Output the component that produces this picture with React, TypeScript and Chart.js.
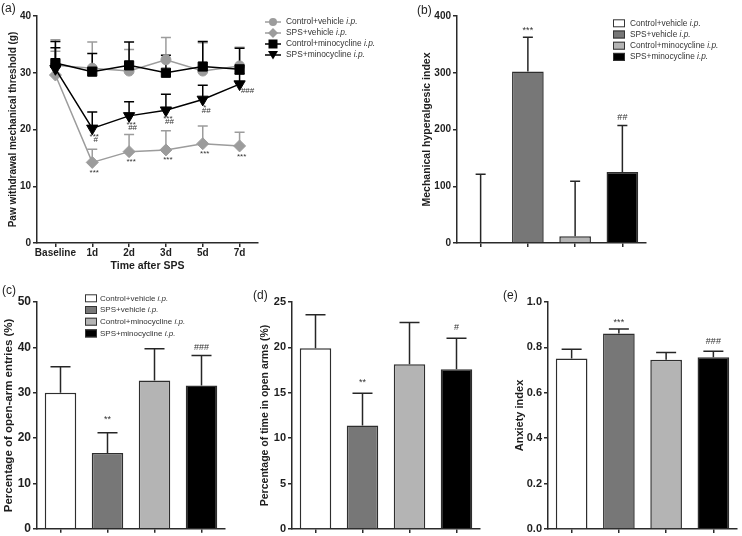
import React, { useEffect, useRef } from 'react';
import { Chart, registerables } from 'chart.js';

Chart.register(...registerables);

const FONT = '"Liberation Sans", Arial, Helvetica, sans-serif';

// ---------- Panel (a): paw withdrawal threshold over time ----------
const TIME_POINTS = ['Baseline', '1d', '2d', '3d', '5d', '7d'];
const PWT_CTRL_VEH = [31.3, 30.8, 30.3, 32.3, 30.3, 31.2];
const PWT_CTRL_VEH_ERR = [4.5, 4.6, 3.8, 3.9, 5.0, 3.3];
const PWT_SPS_VEH = [29.6, 14.2, 16.1, 16.4, 17.5, 17.1];
const PWT_SPS_VEH_ERR = [4.2, 2.3, 3.0, 3.4, 3.1, 2.4];
const PWT_CTRL_MINO = [31.7, 30.2, 31.3, 30.0, 31.1, 30.6];
const PWT_CTRL_MINO_ERR = [3.8, 3.2, 4.1, 3.1, 4.4, 3.7];
const PWT_SPS_MINO = [30.7, 20.2, 22.4, 23.4, 25.3, 28.0];
const PWT_SPS_MINO_ERR = [3.7, 2.9, 2.5, 2.8, 2.5, 1.8];
const PWT_SPS_VEH_SIG = ['', '***', '***', '***', '***', '***'];
const PWT_SPS_MINO_SIG = ['', '***', '***', '***', '*', ''];
const PWT_SPS_MINO_HASH = ['', '#', '##', '##', '##', '###'];

// ---------- Groups for bar panels ----------
const GROUPS = ['Control+vehicle', 'SPS+vehicle', 'Control+minocycline', 'SPS+minocycline'];
const ROUTE = 'i.p.';

// (b) mechanical hyperalgesic index
const MHI = [0, 302, 12, 125];
const MHI_ERR = [121, 60.5, 97, 82];
const MHI_SIG = ['', '***', '', '##'];
// (c) percentage of open-arm entries
const OAE = [30.0, 16.7, 32.7, 31.6];
const OAE_ERR = [5.7, 4.5, 7.0, 6.6];
const OAE_SIG = ['', '**', '', '###'];
// (d) percentage of time in open arms
const OAT = [19.9, 11.4, 18.15, 17.6];
const OAT_ERR = [3.7, 3.55, 4.6, 3.4];
const OAT_SIG = ['', '**', '', '#'];
// (e) anxiety index
const AI = [0.751, 0.861, 0.746, 0.757];
const AI_ERR = [0.041, 0.02, 0.031, 0.026];
const AI_SIG = ['', '***', '', '###'];

const BAR_FILLS = ['#ffffff', '#777777', '#b4b4b4', '#000000'];
const AXIS_COLOR = '#2a2a2a';
const TEXT_COLOR = '#1e1e1e';
const GRAY = '#9c9c9c';

function yAxis(o: any) {
  return {
    min: o.min,
    max: o.max,
    ticks: {
      stepSize: o.step,
      font: { family: FONT, size: o.tickSize, weight: 'bold' },
      color: TEXT_COLOR,
      padding: 2,
      callback: o.fmt || ((v: any) => String(v)),
    },
    grid: { display: true, drawOnChartArea: false, drawTicks: true, tickLength: 4, color: AXIS_COLOR, lineWidth: 1.5 },
    border: { display: true, color: AXIS_COLOR, width: 1.5 },
    title: {
      display: true,
      text: o.title,
      font: { family: FONT, size: o.titleSize, weight: 'bold' },
      color: TEXT_COLOR,
      padding: { top: o.titlePad, bottom: 0 },
    },
    afterFit: (s: any) => {
      s.width = o.width;
    },
  };
}

function xAxis(o: any) {
  return {
    type: 'category',
    offset: true,
    grid: { display: true, drawOnChartArea: false, drawTicks: true, tickLength: 4, color: AXIS_COLOR, lineWidth: 1.5, offset: false },
    border: { display: true, color: AXIS_COLOR, width: 1.5 },
    ticks: {
      display: !!o.labels,
      font: { family: FONT, size: o.tickSize || 10, weight: 'bold' },
      color: TEXT_COLOR,
      padding: 0,
      maxRotation: 0,
      autoSkip: false,
    },
    title: o.title
      ? {
          display: true,
          text: o.title,
          font: { family: FONT, size: o.titleSize, weight: 'bold' },
          color: TEXT_COLOR,
          padding: { top: 0, bottom: o.titlePad },
        }
      : { display: false },
    afterFit: (s: any) => {
      s.height = o.height;
    },
  };
}

function panelLabel(text: string, x: number, y: number) {
  return {
    id: 'panelLabel',
    afterDraw(chart: any) {
      const c = chart.ctx;
      c.save();
      c.font = `12px ${FONT}`;
      c.fillStyle = TEXT_COLOR;
      c.textAlign = 'left';
      c.textBaseline = 'middle';
      c.fillText(text, x, y);
      c.restore();
    },
  };
}

function drawLegendText(c: any, label: string, x: number, y: number, size: number) {
  c.font = `${size}px ${FONT}`;
  c.fillStyle = '#333';
  c.textAlign = 'left';
  c.textBaseline = 'middle';
  const main = label + ' ';
  c.fillText(main, x, y);
  const w = c.measureText(main).width;
  c.font = `italic ${size}px ${FONT}`;
  c.fillText(ROUTE, x + w, y);
}

function boxLegend(o: any) {
  return {
    id: 'boxLegend',
    afterDraw(chart: any) {
      const c = chart.ctx;
      c.save();
      GROUPS.forEach((g, i) => {
        const y = o.y + i * o.rowH;
        c.fillStyle = BAR_FILLS[i];
        c.fillRect(o.boxX, y - o.boxH / 2, o.boxW, o.boxH);
        c.strokeStyle = '#333';
        c.lineWidth = 1;
        c.strokeRect(o.boxX + 0.5, y - o.boxH / 2 + 0.5, o.boxW - 1, o.boxH - 1);
        drawLegendText(c, g, o.textX, y, o.size);
      });
      c.restore();
    },
  };
}

function drawMarker(c: any, style: string, x: number, y: number, r: number, color: string) {
  c.fillStyle = color;
  c.beginPath();
  if (style === 'circle') {
    c.arc(x, y, r, 0, Math.PI * 2);
  } else if (style === 'diamond') {
    c.moveTo(x, y - r);
    c.lineTo(x + r, y);
    c.lineTo(x, y + r);
    c.lineTo(x - r, y);
    c.closePath();
  } else if (style === 'square') {
    c.rect(x - r, y - r, 2 * r, 2 * r);
  } else {
    c.moveTo(x - r, y - r * 0.8);
    c.lineTo(x + r, y - r * 0.8);
    c.lineTo(x, y + r * 0.9);
    c.closePath();
  }
  c.fill();
}

function pointLegend(o: any) {
  const styles = ['circle', 'diamond', 'square', 'triDown'];
  const radii = [4, 5, 4.5, 5];
  const colors = [GRAY, GRAY, '#000', '#000'];
  return {
    id: 'pointLegend',
    afterDraw(chart: any) {
      const c = chart.ctx;
      c.save();
      GROUPS.forEach((g, i) => {
        const y = o.y + i * o.rowH;
        c.strokeStyle = colors[i];
        c.lineWidth = 1.5;
        c.beginPath();
        c.moveTo(o.markX - 8, y);
        c.lineTo(o.markX + 8, y);
        c.stroke();
        drawMarker(c, styles[i], o.markX, y, radii[i], colors[i]);
        drawLegendText(c, g, o.textX, y, o.size);
      });
      c.restore();
    },
  };
}

function barExtras(errs: number[], sigs: string[], gaps: number[], capW: number, sigSize: number) {
  return {
    id: 'barExtras',
    afterDatasetsDraw(chart: any) {
      const c = chart.ctx;
      const ys = chart.scales.y;
      const meta = chart.getDatasetMeta(0);
      const data = chart.data.datasets[0].data;
      c.save();
      c.strokeStyle = '#262626';
      c.lineWidth = 1.5;
      meta.data.forEach((el: any, i: number) => {
        const v = data[i];
        const yb = ys.getPixelForValue(v);
        const yt = ys.getPixelForValue(v + errs[i]);
        const x = el.x;
        c.beginPath();
        c.moveTo(x, yb);
        c.lineTo(x, yt);
        c.moveTo(x - capW / 2, yt);
        c.lineTo(x + capW / 2, yt);
        c.stroke();
        if (sigs[i]) {
          const star = sigs[i].indexOf('*') >= 0;
          const cy = yt - gaps[i];
          c.font = `${sigSize}px ${FONT}`;
          c.fillStyle = '#333';
          c.textAlign = 'center';
          c.textBaseline = 'alphabetic';
          c.fillText(sigs[i], x, cy + (star ? 0.57 : 0.35) * sigSize);
        }
      });
      c.restore();
    },
  };
}

function lineExtras(errs: number[][], capW: number) {
  return {
    id: 'lineExtras',
    beforeDatasetsDraw(chart: any) {
      const c = chart.ctx;
      const ys = chart.scales.y;
      c.save();
      c.lineWidth = 1.5;
      chart.data.datasets.forEach((ds: any, di: number) => {
        const meta = chart.getDatasetMeta(di);
        c.strokeStyle = ds.borderColor;
        meta.data.forEach((el: any, i: number) => {
          const v = ds.data[i];
          const yb = ys.getPixelForValue(v);
          const yt = ys.getPixelForValue(v + errs[di][i]);
          c.beginPath();
          c.moveTo(el.x, yb);
          c.lineTo(el.x, yt);
          c.moveTo(el.x - capW / 2, yt);
          c.lineTo(el.x + capW / 2, yt);
          c.stroke();
        });
      });
      c.restore();
    },
    afterDatasetsDraw(chart: any) {
      const c = chart.ctx;
      const size = 8;
      c.save();
      c.font = `${size}px ${FONT}`;
      c.fillStyle = '#333';
      c.textAlign = 'center';
      c.textBaseline = 'alphabetic';
      const put = (t: string, x: number, cy: number) => {
        const star = t.indexOf('*') >= 0;
        c.fillText(t, x, cy + (star ? 0.57 : 0.35) * size);
      };
      const m1 = chart.getDatasetMeta(1);
      PWT_SPS_VEH_SIG.forEach((t, i) => {
        if (t) put(t, m1.data[i].x + 2, m1.data[i].y + 8);
      });
      const m3 = chart.getDatasetMeta(3);
      PWT_SPS_MINO_SIG.forEach((t, i) => {
        if (t) put(t, m3.data[i].x + 2, m3.data[i].y + 6.5);
      });
      PWT_SPS_MINO_HASH.forEach((t, i) => {
        if (!t) return;
        if (PWT_SPS_MINO_SIG[i]) put(t, m3.data[i].x + 3.5, m3.data[i].y + 11);
        else put(t, m3.data[i].x + 8, m3.data[i].y + 6);
      });
      c.restore();
    },
  };
}

function baseOptions(padding: any, scales: any) {
  return {
    animation: false,
    responsive: false,
    devicePixelRatio: 1,
    events: [],
    layout: { padding },
    plugins: { legend: { display: false }, tooltip: { enabled: false }, title: { display: false } },
    scales,
  };
}

function barConfig(o: any) {
  return {
    type: 'bar',
    data: {
      labels: GROUPS,
      datasets: [
        {
          data: o.values,
          backgroundColor: BAR_FILLS,
          borderColor: '#2e2e2e',
          borderWidth: 1.5,
          barPercentage: 0.67,
          categoryPercentage: 1,
        },
      ],
    },
    options: baseOptions(o.padding, { x: xAxis({ height: o.xHeight }), y: yAxis(o.y) }),
    plugins: o.plugins,
  };
}

const CHARTS: any[] = [
  {
    key: 'a',
    left: 0,
    top: 0,
    width: 400,
    height: 275,
    config: () => ({
      type: 'line',
      data: {
        labels: TIME_POINTS,
        datasets: [
          { label: GROUPS[0], data: PWT_CTRL_VEH, borderColor: GRAY, backgroundColor: GRAY, pointStyle: 'circle', pointRadius: 5, order: 3 },
          { label: GROUPS[1], data: PWT_SPS_VEH, borderColor: GRAY, backgroundColor: GRAY, pointStyle: 'rectRot', pointRadius: 6, order: 2 },
          { label: GROUPS[2], data: PWT_CTRL_MINO, borderColor: '#000', backgroundColor: '#000', pointStyle: 'rect', pointRadius: 6.5, order: 1 },
          { label: GROUPS[3], data: PWT_SPS_MINO, borderColor: '#000', backgroundColor: '#000', pointStyle: 'triangle', pointRotation: 180, pointRadius: 6.5, order: 0 },
        ].map((d) => ({ ...d, borderWidth: 1.5, tension: 0, pointBorderWidth: 1, pointBackgroundColor: d.backgroundColor, pointBorderColor: d.borderColor })),
      },
      options: baseOptions(
        { left: 0, top: 16, right: 142, bottom: 0 },
        {
          x: xAxis({ height: 32, labels: true, tickSize: 10, title: 'Time after SPS', titleSize: 10.5, titlePad: 2.7 }),
          y: yAxis({ min: 0, max: 40, step: 10, width: 37, tickSize: 10, title: 'Paw withdrawal mechanical threshold (g)', titleSize: 10, titlePad: 7 }),
        }
      ),
      plugins: [
        lineExtras([PWT_CTRL_VEH_ERR, PWT_SPS_VEH_ERR, PWT_CTRL_MINO_ERR, PWT_SPS_MINO_ERR], 10),
        pointLegend({ markX: 273, textX: 286, y: 22, rowH: 11, size: 8.4 }),
        panelLabel('(a)', 1, 9),
      ],
    }),
  },
  {
    key: 'b',
    left: 410,
    top: 0,
    width: 332,
    height: 252,
    config: () =>
      barConfig({
        values: MHI,
        padding: { left: 0, top: 16, right: 96, bottom: 0 },
        xHeight: 9,
        y: { min: 0, max: 400, step: 100, width: 47, tickSize: 10, title: 'Mechanical hyperalgesic index', titleSize: 10.5, titlePad: 10.7 },
        plugins: [
          barExtras(MHI_ERR, MHI_SIG, [0, 9, 0, 9], 10, 9),
          boxLegend({ boxX: 203, boxW: 12, boxH: 8, textX: 220, y: 23.3, rowH: 11.2, size: 8.3 }),
          panelLabel('(b)', 7, 11),
        ],
      }),
  },
  {
    key: 'c',
    left: 0,
    top: 275,
    width: 240,
    height: 263,
    config: () =>
      barConfig({
        values: OAE,
        padding: { left: 0, top: 27, right: 15, bottom: 0 },
        xHeight: 9,
        y: { min: 0, max: 50, step: 10, width: 37, tickSize: 12, title: 'Percentage of open-arm entries (%)', titleSize: 11.5, titlePad: 2.2 },
        plugins: [
          barExtras(OAE_ERR, OAE_SIG, [0, 16, 0, 9], 20, 9),
          boxLegend({ boxX: 85, boxW: 12, boxH: 8, textX: 100, y: 23.3, rowH: 11.7, size: 8 }),
          panelLabel('(c)', 2, 16),
        ],
      }),
  },
  {
    key: 'd',
    left: 245,
    top: 275,
    width: 240,
    height: 263,
    config: () =>
      barConfig({
        values: OAT,
        padding: { left: 0, top: 27, right: 5, bottom: 0 },
        xHeight: 9,
        y: { min: 0, max: 25, step: 5, width: 47, tickSize: 11, title: 'Percentage of time in open arms (%)', titleSize: 10.5, titlePad: 13.5 },
        plugins: [barExtras(OAT_ERR, OAT_SIG, [0, 13, 0, 11], 20, 9), panelLabel('(d)', 8, 21)],
      }),
  },
  {
    key: 'e',
    left: 495,
    top: 275,
    width: 247,
    height: 263,
    config: () =>
      barConfig({
        values: AI,
        padding: { left: 0, top: 27, right: 5, bottom: 0 },
        xHeight: 9,
        y: {
          min: 0,
          max: 1,
          step: 0.2,
          width: 53,
          tickSize: 11,
          title: 'Anxiety index',
          titleSize: 11,
          titlePad: 18,
          fmt: (v: any) => Number(v).toFixed(1),
        },
        plugins: [barExtras(AI_ERR, AI_SIG, [0, 9.4, 0, 10], 20, 9), panelLabel('(e)', 8, 21)],
      }),
  },
];

function ChartCanvas(props: any) {
  const ref = useRef<HTMLCanvasElement | null>(null);
  useEffect(() => {
    const chart = new Chart(ref.current as HTMLCanvasElement, props.config() as any);
    return () => chart.destroy();
  }, []);
  return (
    <canvas
      ref={ref}
      width={props.width}
      height={props.height}
      style={{ position: 'absolute', left: props.left, top: props.top, width: props.width, height: props.height }}
    />
  );
}

export default function App() {
  return (
    <div style={{ position: 'fixed', left: 0, top: 0, width: 742, height: 536, background: '#ffffff', overflow: 'hidden' }}>
      {CHARTS.map((c) => (
        <ChartCanvas key={c.key} {...c} />
      ))}
    </div>
  );
}
